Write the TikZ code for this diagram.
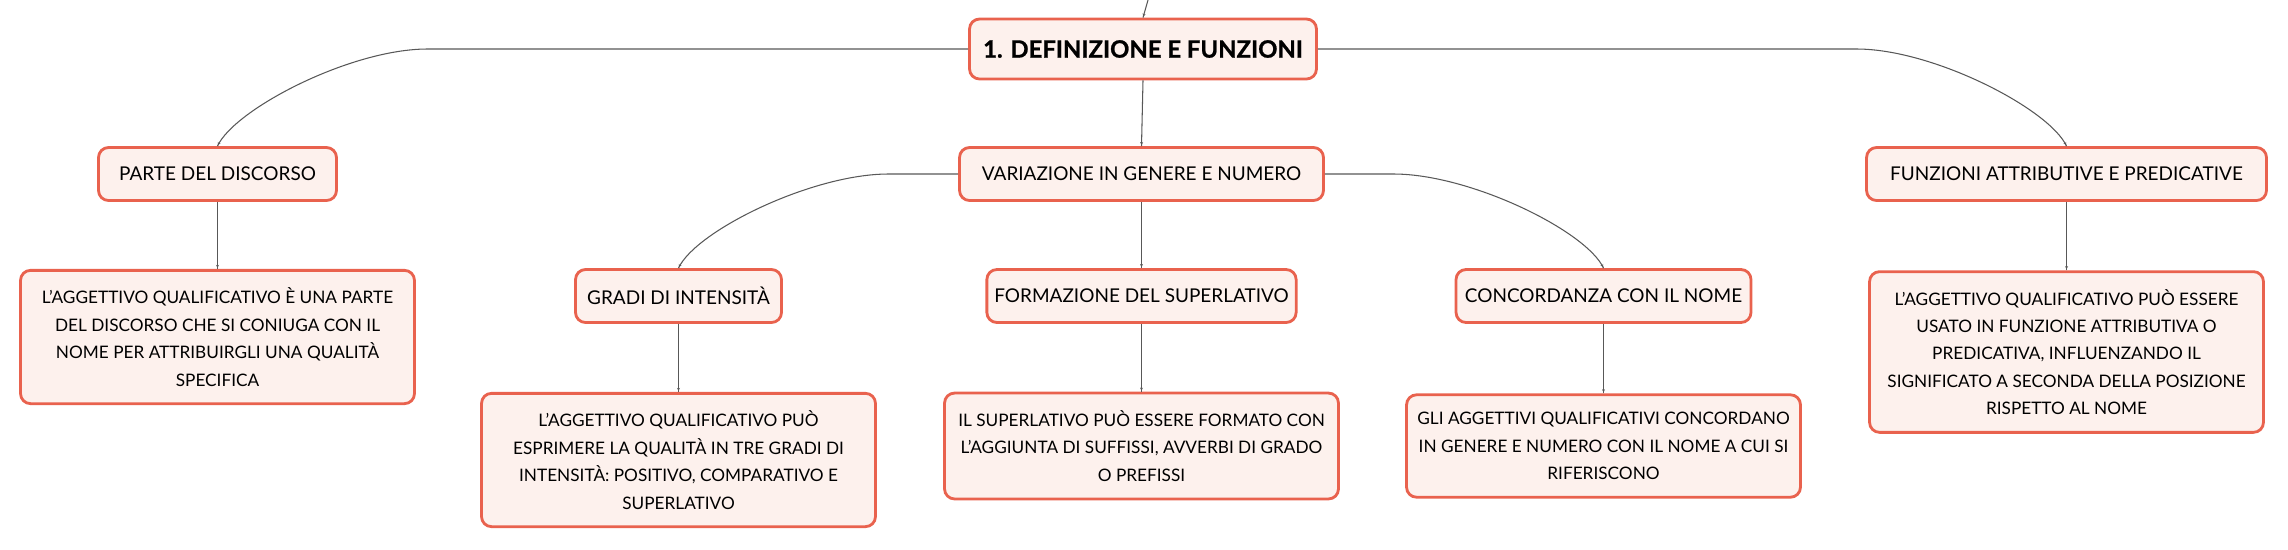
\documentclass[tikz,border=0pt]{standalone}
\usepackage{fontspec}
\setmainfont{Lato}
\newfontfamily\heavyfont[FakeBold=0.9]{Lato Bold}
\usetikzlibrary{arrows}
\usetikzlibrary{calc}
\usetikzlibrary{decorations.markings}
\definecolor{boxred}{RGB}{233,98,78}
\definecolor{boxfill}{RGB}{253,241,237}
\definecolor{linegray}{RGB}{88,88,88}
\tikzset{link/.style = {draw=linegray, line width=0.6pt,
                        decoration={markings,
                                    mark=at position 1 with {\arrow[scale=0.5]{latex'}}},
                        postaction={decorate}},
         box/.style = {draw=boxred, fill=boxfill, line width=1.6pt, rounded corners=0.2cm},
         rootbox/.style = {box, minimum width=6.94cm, minimum height=1.2cm,
                           font=\fontsize{13.6}{16}\heavyfont},
         topic/.style = {box, minimum height=1.06cm, inner xsep=0.15cm,
                         font=\fontsize{10.8}{13}\selectfont},
         desc/.style = {box, minimum width=7.88cm, inner xsep=0.1cm, inner ysep=0.35cm,
                        align=center, font=\fontsize{9.8}{15.6}\selectfont}}

\begin{document}
\begin{tikzpicture}[x=0.02cm, y=-0.02cm]
    \useasboundingbox (0, 0) rectangle (2288, 549);

    \node [rootbox] (root) at (1143, 49) {1. DEFINIZIONE E FUNZIONI};
    \coordinate (above) at (1148, 0);

    \node [topic, minimum width=4.76cm] (parte) at (217.5, 174) {PARTE DEL DISCORSO};
    \node [topic, minimum width=7.28cm] (variaz) at (1141.5, 174) {VARIAZIONE IN GENERE E NUMERO};
    \node [topic, minimum width=8cm] (funz) at (2066.5, 174) {FUNZIONI ATTRIBUTIVE E PREDICATIVE};

    \node [topic, minimum width=4.12cm] (gradi) at (678.5, 296) {GRADI DI INTENSITÀ};
    \node [topic, minimum width=6.12cm] (formaz) at (1141.5, 296) {FORMAZIONE DEL SUPERLATIVO};
    \node [topic, minimum width=5.9cm] (concord) at (1603.5, 296) {CONCORDANZA CON IL NOME};

    \node [desc] (descParte) at (217.5, 337) {L'AGGETTIVO QUALIFICATIVO È UNA PARTE\\
        DEL DISCORSO CHE SI CONIUGA CON IL\\ NOME PER ATTRIBUIRGLI UNA QUALITÀ\\ SPECIFICA};
    \node [desc] (descGradi) at (678.5, 460) {L'AGGETTIVO QUALIFICATIVO PUÒ\\
        ESPRIMERE LA QUALITÀ IN TRE GRADI DI\\ INTENSITÀ: POSITIVO, COMPARATIVO E\\ SUPERLATIVO};
    \node [desc] (descFormaz) at (1141.5, 446) {IL SUPERLATIVO PUÒ ESSERE FORMATO CON\\
        L'AGGIUNTA DI SUFFISSI, AVVERBI DI GRADO\\ O PREFISSI};
    \node [desc] (descConcord) at (1603.5, 446) {GLI AGGETTIVI QUALIFICATIVI CONCORDANO\\
        IN GENERE E NUMERO CON IL NOME A CUI SI\\ RIFERISCONO};
    \node [desc] (descFunz) at (2066.5, 352) {L'AGGETTIVO QUALIFICATIVO PUÒ ESSERE\\
        USATO IN FUNZIONE ATTRIBUTIVA O\\ PREDICATIVA, INFLUENZANDO IL\\
        SIGNIFICATO A SECONDA DELLA POSIZIONE\\ RISPETTO AL NOME};

    % straight links
    \draw [link] (above) -- (root.north);
    \draw [link] (root.south) -- (variaz.north);
    \draw [link] (variaz.south) -- (formaz.north);
    \draw [link] (parte.south) -- (descParte.north);
    \draw [link] (gradi.south) -- (descGradi.north);
    \draw [link] (formaz.south) -- (descFormaz.north);
    \draw [link] (concord.south) -- (descConcord.north);
    \draw [link] (funz.south) -- (descFunz.north);

    % curved links
    \draw [link] (root.west) -- ($(parte.north |- root.west) + (210, 0)$)
        .. controls +(-77, 0) and +(17, -37) .. (parte.north);
    \draw [link] (root.east) -- ($(funz.north |- root.east) + (-210, 0)$)
        .. controls +(77, 0) and +(-17, -37) .. (funz.north);
    \draw [link] (variaz.west) -- ($(gradi.north |- variaz.west) + (210, 0)$)
        .. controls +(-77, 0) and +(17, -37) .. (gradi.north);
    \draw [link] (variaz.east) -- ($(concord.north |- variaz.east) + (-210, 0)$)
        .. controls +(77, 0) and +(-17, -37) .. (concord.north);
\end{tikzpicture}
\end{document}
